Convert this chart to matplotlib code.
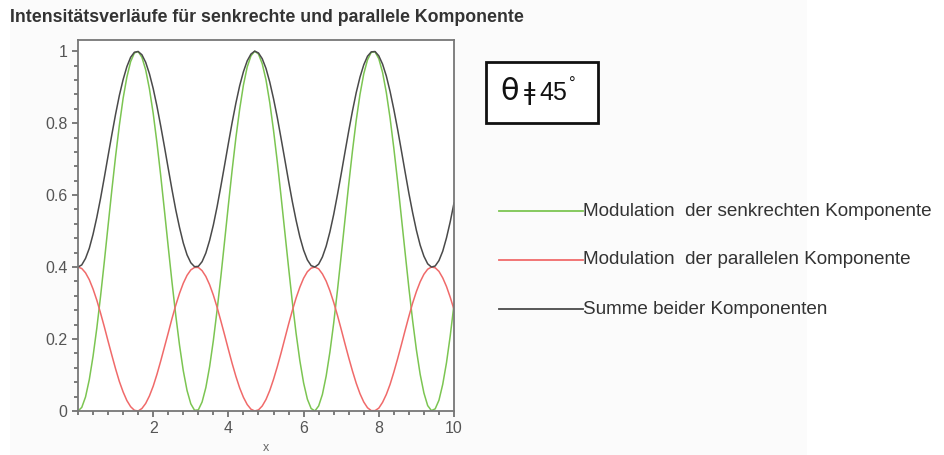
import matplotlib
matplotlib.use("Agg")
import matplotlib.pyplot as plt
from matplotlib.patches import Rectangle
from matplotlib.lines import Line2D

plt.rcParams["font.family"] = ["Liberation Sans", "DejaVu Sans"]

# values, x step 0.1
x_vals = [round(i * 0.1, 1) for i in range(101)]
senkrecht = [0.000, 0.010, 0.039, 0.087, 0.152, 0.230, 0.319, 0.415, 0.515, 0.614,
             0.708, 0.794, 0.869, 0.928, 0.971, 0.995, 0.999, 0.983, 0.948, 0.895,
             0.827, 0.745, 0.654, 0.556, 0.456, 0.358, 0.266, 0.183, 0.112, 0.057,
             0.020, 0.002, 0.003, 0.025, 0.065, 0.123, 0.196, 0.281, 0.374, 0.473,
             0.573, 0.670, 0.760, 0.839, 0.906, 0.956, 0.987, 1.000, 0.992, 0.965,
             0.920, 0.857, 0.780, 0.693, 0.597, 0.498, 0.399, 0.303, 0.216, 0.140,
             0.078, 0.033, 0.007, 0.000, 0.014, 0.046, 0.097, 0.164, 0.244, 0.335,
             0.432, 0.531, 0.630, 0.723, 0.808, 0.880, 0.937, 0.976, 0.997, 0.998,
             0.979, 0.941, 0.885, 0.814, 0.730, 0.638, 0.539, 0.440, 0.342, 0.251,
             0.170, 0.102, 0.050, 0.015, 0.001, 0.006, 0.030, 0.074, 0.134, 0.209,
             0.296]
parallel = [0.400, 0.396, 0.384, 0.365, 0.339, 0.308, 0.272, 0.234, 0.194, 0.155,
            0.117, 0.082, 0.053, 0.029, 0.012, 0.002, 0.000, 0.007, 0.021, 0.042,
            0.069, 0.102, 0.139, 0.178, 0.217, 0.257, 0.294, 0.327, 0.355, 0.377,
            0.392, 0.399, 0.399, 0.390, 0.374, 0.351, 0.322, 0.288, 0.250, 0.211,
            0.171, 0.132, 0.096, 0.064, 0.038, 0.018, 0.005, 0.000, 0.003, 0.014,
            0.032, 0.057, 0.088, 0.123, 0.161, 0.201, 0.241, 0.279, 0.314, 0.344,
            0.369, 0.387, 0.397, 0.400, 0.395, 0.381, 0.361, 0.334, 0.302, 0.266,
            0.227, 0.187, 0.148, 0.111, 0.077, 0.048, 0.025, 0.009, 0.001, 0.001,
            0.008, 0.024, 0.046, 0.074, 0.108, 0.145, 0.184, 0.224, 0.263, 0.300,
            0.332, 0.359, 0.380, 0.394, 0.400, 0.398, 0.388, 0.370, 0.346, 0.316,
            0.282]
summe = [0.400, 0.406, 0.424, 0.452, 0.491, 0.538, 0.591, 0.649, 0.709, 0.768,
         0.825, 0.877, 0.921, 0.957, 0.983, 0.997, 0.999, 0.990, 0.969, 0.937,
         0.896, 0.847, 0.792, 0.734, 0.674, 0.615, 0.559, 0.510, 0.467, 0.434,
         0.412, 0.401, 0.402, 0.415, 0.439, 0.474, 0.517, 0.568, 0.625, 0.684,
         0.744, 0.802, 0.856, 0.904, 0.943, 0.973, 0.992, 1.000, 0.995, 0.979,
         0.952, 0.914, 0.868, 0.816, 0.758, 0.699, 0.639, 0.582, 0.530, 0.484,
         0.447, 0.420, 0.404, 0.400, 0.408, 0.428, 0.458, 0.498, 0.546, 0.601,
         0.659, 0.719, 0.778, 0.834, 0.885, 0.928, 0.962, 0.986, 0.998, 0.999,
         0.987, 0.964, 0.931, 0.888, 0.838, 0.783, 0.724, 0.664, 0.605, 0.551,
         0.502, 0.461, 0.430, 0.409, 0.400, 0.403, 0.418, 0.444, 0.481, 0.526,
         0.578]

labels = ["Modulation  der senkrechten Komponente",
          "Modulation  der parallelen Komponente",
          "Summe beider Komponenten"]
colors = ["#7cc552", "#f06a6a", "#4a4a4a"]

W, H = 945, 455
fig = plt.figure(figsize=(W / 100, H / 100), dpi=100)
fig.patches.append(Rectangle((10 / W, 0), 797 / W, 1, transform=fig.transFigure,
                             facecolor="#fbfbfb", edgecolor="none", zorder=-10))

ax = fig.add_axes([78 / W, 1 - 411 / H, 376 / W, 371 / H])
ax.set_facecolor("white")
for ys, c in zip([senkrecht, parallel, summe], colors):
    ax.plot(x_vals, ys, color=c, lw=1.1)

ax.set_xlim(0, 10)
ax.set_ylim(0, 1.031)
ax.set_xticks([2, 4, 6, 8, 10])
ax.set_xticks([v * 0.4 for v in range(26)], minor=True)
ax.set_yticks([0, 0.2, 0.4, 0.6, 0.8, 1.0])
ax.set_yticklabels(["0", "0.2", "0.4", "0.6", "0.8", "1"])
ax.set_yticks([v * 0.04 for v in range(26)], minor=True)
ax.tick_params(which="both", direction="out", color="#666666", labelcolor="#555555",
               labelsize=11.5, width=1.2)
ax.tick_params(which="major", length=4)
ax.tick_params(which="minor", length=3)
for s in ax.spines.values():
    s.set_color("#777777")
    s.set_linewidth(1.3)

fig.text(266 / W, 1 - 448 / H, "x", ha="center", va="center", fontsize=9,
         color="#666666")

fig.text(10 / W, 1 - 18 / H, "Intensitätsverläufe für senkrechte und parallele Komponente",
         ha="left", va="center", fontsize=12.8, fontweight="bold", color="#333333")

# legend drawn by hand at the right
for i, (lab, c) in enumerate(zip(labels, colors)):
    yp = 1 - (211 + i * 49) / H
    fig.add_artist(Line2D([499 / W, 583 / W], [yp, yp], color=c, lw=1.3,
                          transform=fig.transFigure))
    fig.text(583 / W, yp, lab, ha="left", va="center", fontsize=13.6, color="#333333")

# theta box
fig.patches.append(Rectangle((486 / W, 1 - 123 / H), 112 / W, 61 / H,
                             transform=fig.transFigure, facecolor="white",
                             edgecolor="#111111", lw=2))
fig.text(510 / W, 1 - 92 / H, "θ", ha="center", va="center", fontsize=22,
         family=["DejaVu Sans"], color="#111111")
fig.text(530 / W, 1 - 93 / H, "ǂ", ha="center", va="center", fontsize=18,
         family=["DejaVu Sans"], color="#111111")
fig.text(539 / W, 1 - 93 / H, "45", ha="left", va="center", fontsize=18,
         color="#111111")
fig.text(569 / W, 1 - 84 / H, "°", ha="left", va="center", fontsize=12,
         color="#111111")

fig.savefig("out.png", dpi=100)
